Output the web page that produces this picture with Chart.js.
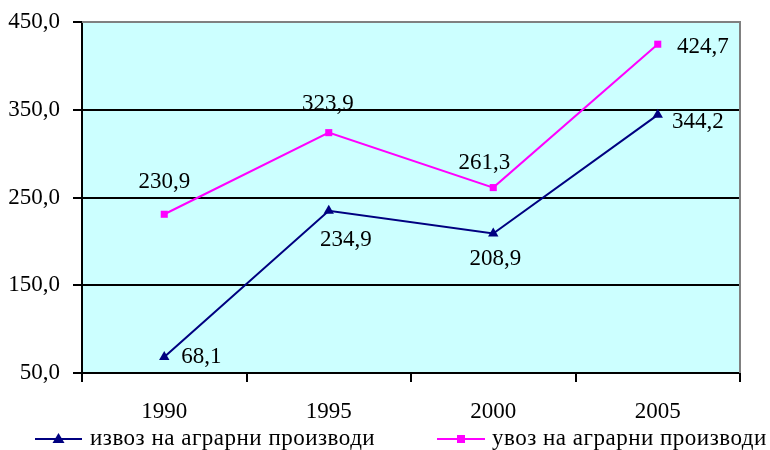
<!DOCTYPE html>
<html>
<head>
<meta charset="utf-8">
<script src="https://cdn.jsdelivr.net/npm/chart.js@4/dist/chart.umd.min.js"></script>
<style>
  html, body { margin: 0; padding: 0; background: #ffffff; }
  #wrap { width: 770px; height: 450px; }
</style>
</head>
<body>
<div id="wrap"><canvas id="c" width="770" height="450"></canvas></div>
<script>
const years = ['1990', '1995', '2000', '2005'];
const exportValues = [68.1, 234.9, 208.9, 344.2];
const importValues = [230.9, 323.9, 261.3, 424.7];
const exportName = 'извоз на аграрни производи';
const importName = 'увоз на аграрни производи';
const yTicks = [50, 150, 250, 350, 450];

// label offset from its point, in pixels [dx, dy] (label centre)
const exportLabelShift = [[37, 0], [17, 29], [2, 25], [40, 7]];
const importLabelShift = [[0, -32], [-1, -29], [-9, -25], [45, 3]];

const FONT = '"Liberation Serif", "Times New Roman", serif';
const fmt = v => v.toFixed(1).replace('.', ',');

const plotFrame = {
  id: 'plotFrame',
  beforeDraw(chart) {
    const { ctx, chartArea: a } = chart;
    ctx.save();
    ctx.fillStyle = '#ccffff';
    ctx.fillRect(a.left, a.top, a.right - a.left, a.bottom - a.top);
    ctx.restore();
  },
  afterDatasetsDraw(chart) {
    const { ctx, chartArea: a } = chart;
    ctx.save();
    ctx.strokeStyle = '#808080';
    ctx.lineWidth = 2;
    ctx.beginPath();
    ctx.moveTo(a.left, a.top);
    ctx.lineTo(a.right, a.top);
    ctx.lineTo(a.right, a.bottom);
    ctx.stroke();
    ctx.restore();
  }
};

const valueLabels = {
  id: 'valueLabels',
  afterDatasetsDraw(chart) {
    const ctx = chart.ctx;
    ctx.save();
    ctx.font = '23px ' + FONT;
    ctx.fillStyle = '#000000';
    ctx.textAlign = 'center';
    ctx.textBaseline = 'middle';
    const shifts = [exportLabelShift, importLabelShift];
    chart.data.datasets.forEach((ds, di) => {
      const meta = chart.getDatasetMeta(di);
      meta.data.forEach((pt, i) => {
        const [dx, dy] = shifts[di][i];
        ctx.fillText(fmt(ds.data[i]), pt.x + dx, pt.y + dy);
      });
    });
    ctx.restore();
  }
};

const bottomLegend = {
  id: 'bottomLegend',
  afterDraw(chart) {
    const ctx = chart.ctx;
    const y = 439;
    const items = [
      { x0: 35, x1: 82, color: '#000080', style: 'triangle', text: exportName, tx: 90 },
      { x0: 437, x1: 485, color: '#ff00ff', style: 'rect', text: importName, tx: 492 }
    ];
    ctx.save();
    items.forEach(it => {
      ctx.strokeStyle = it.color;
      ctx.lineWidth = 2;
      ctx.beginPath();
      ctx.moveTo(it.x0, y);
      ctx.lineTo(it.x1, y);
      ctx.stroke();
      const cx = (it.x0 + it.x1) / 2;
      ctx.fillStyle = it.color;
      if (it.style === 'triangle') {
        ctx.beginPath();
        ctx.moveTo(cx, y - 6);
        ctx.lineTo(cx + 6, y + 4);
        ctx.lineTo(cx - 6, y + 4);
        ctx.closePath();
        ctx.fill();
      } else {
        ctx.fillRect(cx - 4, y - 4, 8, 8);
      }
      ctx.fillStyle = '#000000';
      ctx.font = '23px ' + FONT;
      ctx.letterSpacing = '0.5px';
      ctx.textAlign = 'left';
      ctx.textBaseline = 'middle';
      ctx.fillText(it.text, it.tx, y);
      ctx.letterSpacing = '0px';
    });
    ctx.restore();
  }
};

new Chart(document.getElementById('c'), {
  type: 'line',
  data: {
    labels: years,
    datasets: [
      {
        label: exportName,
        data: exportValues,
        borderColor: '#000080',
        backgroundColor: '#000080',
        borderWidth: 2,
        pointStyle: 'triangle',
        pointRadius: 6,
        pointBorderWidth: 0,
        tension: 0
      },
      {
        label: importName,
        data: importValues,
        borderColor: '#ff00ff',
        backgroundColor: '#ff00ff',
        borderWidth: 2,
        pointStyle: 'rect',
        pointRadius: 5,
        pointBorderWidth: 0,
        tension: 0
      }
    ]
  },
  options: {
    responsive: false,
    animation: false,
    devicePixelRatio: 1,
    layout: { padding: { left: 0, right: 30, top: 22, bottom: 22 } },
    plugins: { legend: { display: false }, tooltip: { enabled: false } },
    scales: {
      x: {
        offset: true,
        grid: { offset: true, drawOnChartArea: false, color: '#000000', lineWidth: 2, tickLength: 9 },
        border: { color: '#000000', width: 2 },
        ticks: { color: '#000000', font: { family: FONT, size: 23 }, padding: 16 },
        afterFit(s) { s.height = 55; s.paddingLeft = 0; s.paddingRight = 0; }
      },
      y: {
        min: 50,
        max: 450,
        afterBuildTicks(s) { s.ticks = yTicks.map(v => ({ value: v })); },
        grid: {
          color: c => (c.tick && c.tick.value === 450) ? '#808080' : '#000000',
          lineWidth: 2,
          tickLength: 9,
          tickColor: '#000000'
        },
        border: { color: '#000000', width: 2 },
        ticks: {
          color: '#000000',
          font: { family: FONT, size: 23 },
          padding: 13,
          callback: v => fmt(v)
        },
        afterFit(s) { s.width = 82; s.paddingTop = 0; s.paddingBottom = 0; }
      }
    }
  },
  plugins: [plotFrame, valueLabels, bottomLegend]
});
</script>
</body>
</html>
